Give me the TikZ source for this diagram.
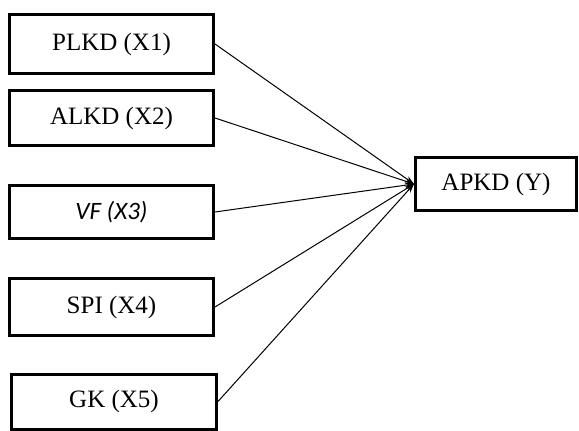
\documentclass[tikz,border=0pt]{standalone}
\usepackage{fontspec}
\setmainfont{Liberation Serif}
\newfontfamily\calfont{Carlito}
\usetikzlibrary{arrows.meta}
\begin{document}
\begin{tikzpicture}[x=1pt,y=-1pt,
  varbox/.style={draw=black,line width=3pt,fill=white,inner sep=0pt,
    font=\fontsize{25}{28}\selectfont},
  link/.style={line width=1pt,-{Stealth[length=9pt,width=6pt]}}]
\useasboundingbox (0,0) rectangle (579,431);
\node[varbox,minimum width=204pt,minimum height=59pt] (x1) at (111.5,44) {PLKD (X1)};
\node[varbox,minimum width=204pt,minimum height=55pt] (x2) at (111.5,118) {ALKD (X2)};
\node[varbox,minimum width=204pt,minimum height=53pt] (x3) at (111.5,212) {\calfont\itshape VF (X3)};
\node[varbox,minimum width=204pt,minimum height=57pt] (x4) at (111.5,307) {SPI (X4)};
\node[varbox,minimum width=205pt,minimum height=55pt] (x5) at (114,401.5) {GK (X5)};
\node[varbox,minimum width=161pt,minimum height=53pt] (y) at (496,184) {APKD (Y)};
\foreach \s in {x1,x2,x3,x4,x5}
  \draw[link] (\s.east) -- (y.west);
\end{tikzpicture}
\end{document}
